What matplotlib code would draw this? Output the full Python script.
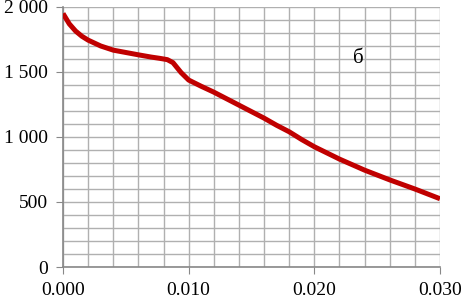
import numpy as np
import matplotlib.pyplot as plt
from matplotlib.ticker import MultipleLocator, FuncFormatter

# curve
t = [0.0, 0.0005, 0.001, 0.0015, 0.002, 0.003, 0.004, 0.005, 0.006, 0.007,
     0.0077, 0.0083, 0.00875, 0.0094, 0.010, 0.011, 0.012, 0.013, 0.014,
     0.015, 0.016, 0.017, 0.018, 0.019, 0.020, 0.022, 0.024, 0.026,
     0.028, 0.030]
p = [1950, 1870, 1815, 1775, 1745, 1700, 1668, 1650, 1632, 1615,
     1605, 1595, 1572, 1495, 1438, 1390, 1345, 1295, 1245,
     1195, 1145, 1090, 1040, 980, 925, 830, 745, 670,
     600, 525]

fig = plt.figure(figsize=(4.62, 3.0), dpi=100)
ax = fig.add_axes([0.1364, 0.11, 0.816, 0.8667])

ax.plot(t, p, color="#C00000", lw=3.6, solid_capstyle="butt", zorder=3)

ax.set_xlim(0, 0.030)
ax.set_ylim(0, 2000)
ax.xaxis.set_major_locator(MultipleLocator(0.010))
ax.xaxis.set_minor_locator(MultipleLocator(0.002))
ax.yaxis.set_major_locator(MultipleLocator(500))
ax.yaxis.set_minor_locator(MultipleLocator(100))
ax.grid(True, which="both", color="#b0b0b0", lw=1)
ax.set_axisbelow(True)

ax.xaxis.set_major_formatter(FuncFormatter(lambda v, pos: f"{v:.3f}"))
ax.yaxis.set_major_formatter(FuncFormatter(lambda v, pos: f"{int(v):,}".replace(",", " ")))

for s in ["top", "right"]:
    ax.spines[s].set_visible(False)
for s in ["left", "bottom"]:
    ax.spines[s].set_color("#888888")
    ax.spines[s].set_linewidth(1.2)

ax.tick_params(which="major", length=5, color="#888888", labelsize=14, pad=6)
ax.tick_params(which="minor", length=0)
for lab in ax.get_xticklabels() + ax.get_yticklabels():
    lab.set_fontfamily("Liberation Serif")

ax.text(0.0231, 1570, "б", fontsize=15, family="Liberation Serif")

fig.savefig("out.png", dpi=100)
